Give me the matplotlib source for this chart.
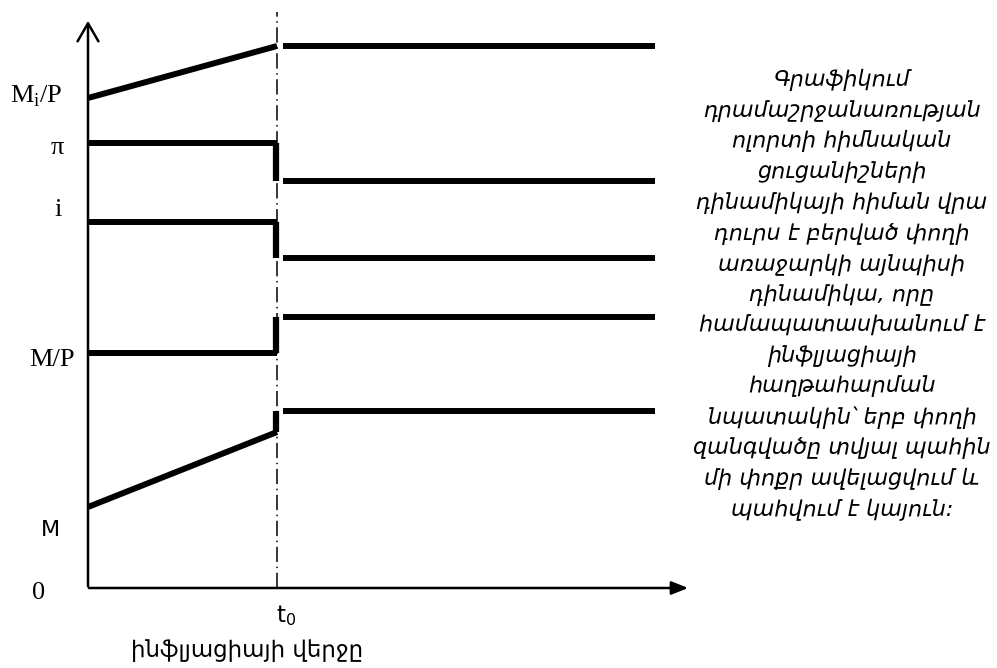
import numpy as np
from matplotlib import pyplot as plt

# time points: origin, end of inflation (t0), right end of the lines
t0 = 1.0
t_end = 3.0
gap = 0.03  # small break after t0

# levels before t0 (start, at t0) and after t0
mip_before = [4.90, 5.42]
mip_after = 5.42
pi_before = [4.45, 4.45]
pi_after = 4.07
i_before = [3.66, 3.66]
i_after = 3.30
mp_before = [2.35, 2.35]
mp_after = 2.71
m_before = [0.81, 1.56]
m_after = 1.77

level_labels = ["M$_\\mathregular{i}$/P", "π", "i", "M/P"]
level_label_y = [4.92, 4.40, 3.78, 2.28]
level_label_x = [-0.275, -0.16, -0.16, -0.19]

note_lines = [
    "Գրաֆիկում",
    "դրամաշրջանառության",
    "ոլորտի հիմնական",
    "ցուցանիշների",
    "դինամիկայի հիման վրա",
    "դուրս է բերված փողի",
    "առաջարկի այնպիսի",
    "դինամիկա, որը",
    "համապատասխանում է",
    "ինֆլյացիայի",
    "հաղթահարման",
    "նպատակին՝ երբ փողի",
    "զանգվածը տվյալ պահին",
    "մի փոքր ավելացվում և",
    "պահվում է կայուն:",
]
xlabel_text = "ինֆլյացիայի վերջը"

fig = plt.figure(figsize=(9.97, 6.68), dpi=100)
ax = fig.add_axes([0, 0, 1, 1])
ax.set_xlim(-88 / 189, (997 - 88) / 189)
ax.set_ylim(-0.80, 5.88)
ax.axis("off")

lw = 4.3
series = [
    (mip_before, mip_after),
    (pi_before, pi_after),
    (i_before, i_after),
    (mp_before, mp_after),
    (m_before, m_after),
]
for before, after in series:
    ax.plot([0, t0], before, color="black", lw=lw, solid_capstyle="butt")
    ax.plot([t0 + gap, t_end], [after, after], color="black", lw=lw, solid_capstyle="butt")
    if abs(after - before[1]) > 0.05:
        ax.plot([t0 - 0.005, t0 - 0.005], [before[1], after], color="black", lw=4.5,
                solid_capstyle="butt")

# axes with arrows
ax.annotate("", xy=(0, 5.70), xytext=(0, -0.01),
            arrowprops=dict(arrowstyle="->,head_length=1.3,head_width=0.75", lw=1.8, color="black"))
ax.annotate("", xy=(3.19, 0), xytext=(-0.01, 0),
            arrowprops=dict(arrowstyle="-|>,head_length=1.0,head_width=0.4", lw=1.8, color="black"))

# vertical dash-dot line at t0
ax.plot([t0, t0], [0, 5.76], color="black", lw=1.1, linestyle=(0, (10, 3, 1, 3)))

# labels on the y axis
serif = "Liberation Serif"
for lab, x, y in zip(level_labels, level_label_x, level_label_y):
    ax.text(x, y, lab, family=serif, fontsize=19, ha="center", va="center")
ax.text(-0.2, 0.58, "M", family="DejaVu Sans", fontsize=16, ha="center", va="center")
ax.text(-0.26, -0.05, "0", family=serif, fontsize=19, ha="center", va="center")

ax.text(t0 + 0.05, -0.28, "t$_\\mathregular{0}$", family="DejaVu Sans", fontsize=16.5,
        ha="center", va="center")
ax.text(0.84, -0.63, xlabel_text, family="DejaVu Sans", fontsize=16.5, ha="center", va="center")

ax.text((842 - 88) / 189, (588 - 295) / 100, "\n".join(note_lines), family="DejaVu Sans",
        style="italic", fontsize=16.0, ha="center", va="center", linespacing=1.51)

fig.savefig("out.png", dpi=100)
